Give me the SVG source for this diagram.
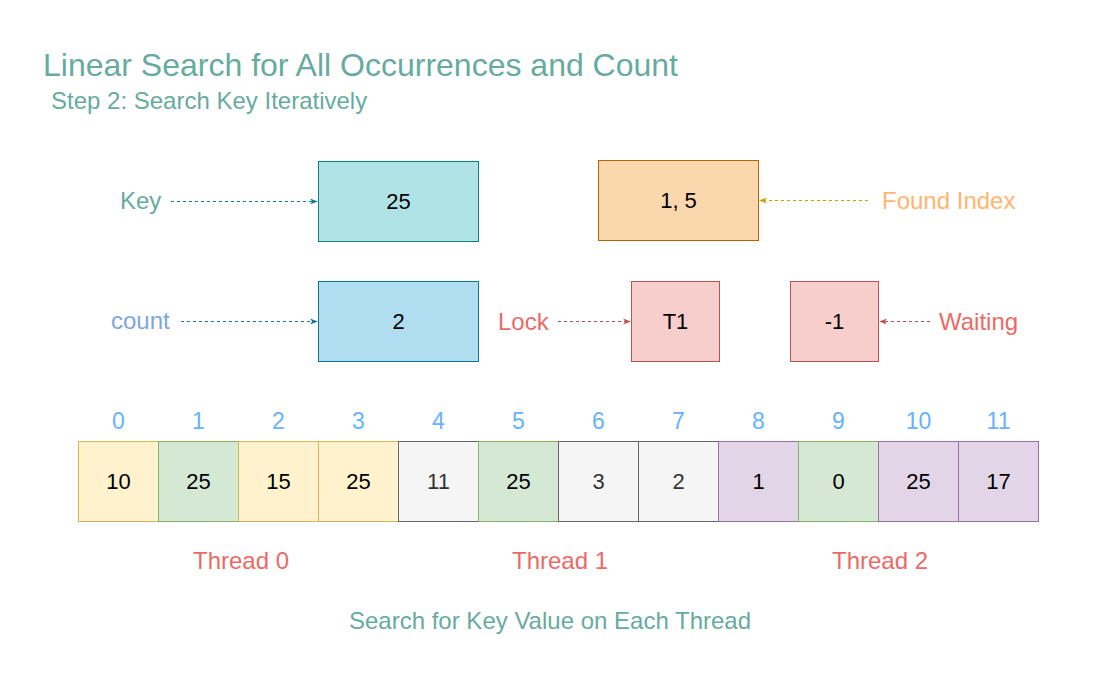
<svg xmlns="http://www.w3.org/2000/svg" width="1100" height="700" viewBox="0 0 1100 700">
<defs>
<style>
text{font-family:"Liberation Sans",Arial,Helvetica,sans-serif;}
.v{font-size:22px;fill:#000;text-anchor:middle;dominant-baseline:central;}
.idx{font-size:23px;fill:#66B2FF;text-anchor:middle;dominant-baseline:central;}
.lbl{font-size:24px;dominant-baseline:central;}
.th{font-size:24px;fill:#EA6B66;text-anchor:middle;dominant-baseline:central;}
.dash{fill:none;stroke-width:1;stroke-dasharray:3 3;}
.y{fill:#fff2cc;stroke:#d6b656;}
.g{fill:#d5e8d4;stroke:#82b366;}
.w{fill:#f5f5f5;stroke:#666666;}
.p{fill:#e1d5e7;stroke:#9673a6;}
</style>
<marker id="mTeal" viewBox="0 0 10 10" refX="9" refY="5" markerWidth="8" markerHeight="8" orient="auto" markerUnits="userSpaceOnUse"><path d="M0,1 L10,5 L0,9 L3,5 Z" fill="#0e8088"/></marker>
<marker id="mBlue" viewBox="0 0 10 10" refX="9" refY="5" markerWidth="8" markerHeight="8" orient="auto" markerUnits="userSpaceOnUse"><path d="M0,1 L10,5 L0,9 L3,5 Z" fill="#10739e"/></marker>
<marker id="mOrange" viewBox="0 0 10 10" refX="9" refY="5" markerWidth="8" markerHeight="8" orient="auto" markerUnits="userSpaceOnUse"><path d="M0,1 L10,5 L0,9 L3,5 Z" fill="#d79b00"/></marker>
<marker id="mRed" viewBox="0 0 10 10" refX="9" refY="5" markerWidth="8" markerHeight="8" orient="auto" markerUnits="userSpaceOnUse"><path d="M0,1 L10,5 L0,9 L3,5 Z" fill="#b85450"/></marker>
</defs>
<rect width="1100" height="700" fill="#ffffff"/>
<g id="title">
<text x="43" y="76" font-size="32" fill="#67AB9F">Linear Search for All Occurrences and Count</text>
<text x="51" y="109" font-size="24" fill="#67AB9F">Step 2: Search Key Iteratively</text>
</g>
<g id="node-key"><rect x="318.5" y="161.5" width="160" height="80" fill="#b0e3e6" stroke="#0e8088"/><text class="v" x="398.5" y="201.5">25</text></g>
<g id="node-found"><rect x="598.5" y="160.5" width="160" height="80" fill="#fad7ac" stroke="#b46504"/><text class="v" x="678.5" y="200.5">1, 5</text></g>
<g id="node-count"><rect x="318.5" y="281.5" width="160" height="80" fill="#b1ddf0" stroke="#10739e"/><text class="v" x="398.5" y="321.5">2</text></g>
<g id="node-lock"><rect x="631.5" y="281.5" width="88" height="80" fill="#f8cecc" stroke="#b85450"/><text class="v" x="675.5" y="321.5">T1</text></g>
<g id="node-wait"><rect x="790.5" y="281.5" width="88" height="80" fill="#f8cecc" stroke="#b85450"/><text class="v" x="834.5" y="321.5">-1</text></g>
<g id="labels">
<text class="lbl" x="120" y="200" fill="#67AB9F">Key</text>
<text class="lbl" x="882" y="200" fill="#FFB570">Found Index</text>
<text class="lbl" x="111" y="320" fill="#7EA6E0">count</text>
<text class="lbl" x="498" y="321" fill="#EA6B66">Lock</text>
<text class="lbl" x="939" y="321" fill="#EA6B66">Waiting</text>
</g>
<g id="connectors">
<line class="dash" x1="171" y1="201.5" x2="317" y2="201.5" stroke="#0e8088" marker-end="url(#mTeal)"/>
<line class="dash" x1="868" y1="200.5" x2="760" y2="200.5" stroke="#d79b00" marker-end="url(#mOrange)"/>
<line class="dash" x1="181" y1="321.5" x2="317" y2="321.5" stroke="#10739e" marker-end="url(#mBlue)"/>
<line class="dash" x1="558" y1="321.5" x2="630" y2="321.5" stroke="#b85450" marker-end="url(#mRed)"/>
<line class="dash" x1="930" y1="321.5" x2="880" y2="321.5" stroke="#b85450" marker-end="url(#mRed)"/>
</g>
<g id="array">
<g id="cell0"><rect class="y" x="78.5" y="441.5" width="80" height="80"/><text class="v" x="118.5" y="481.5">10</text><text class="idx" x="118.5" y="421">0</text></g>
<g id="cell1"><rect class="g" x="158.5" y="441.5" width="80" height="80"/><text class="v" x="198.5" y="481.5">25</text><text class="idx" x="198.5" y="421">1</text></g>
<g id="cell2"><rect class="y" x="238.5" y="441.5" width="80" height="80"/><text class="v" x="278.5" y="481.5">15</text><text class="idx" x="278.5" y="421">2</text></g>
<g id="cell3"><rect class="y" x="318.5" y="441.5" width="80" height="80"/><text class="v" x="358.5" y="481.5">25</text><text class="idx" x="358.5" y="421">3</text></g>
<g id="cell4"><rect class="w" x="398.5" y="441.5" width="80" height="80"/><text class="v" x="438.5" y="481.5" style="fill:#333">11</text><text class="idx" x="438.5" y="421">4</text></g>
<g id="cell5"><rect class="g" x="478.5" y="441.5" width="80" height="80"/><text class="v" x="518.5" y="481.5">25</text><text class="idx" x="518.5" y="421">5</text></g>
<g id="cell6"><rect class="w" x="558.5" y="441.5" width="80" height="80"/><text class="v" x="598.5" y="481.5" style="fill:#333">3</text><text class="idx" x="598.5" y="421">6</text></g>
<g id="cell7"><rect class="w" x="638.5" y="441.5" width="80" height="80"/><text class="v" x="678.5" y="481.5" style="fill:#333">2</text><text class="idx" x="678.5" y="421">7</text></g>
<g id="cell8"><rect class="p" x="718.5" y="441.5" width="80" height="80"/><text class="v" x="758.5" y="481.5">1</text><text class="idx" x="758.5" y="421">8</text></g>
<g id="cell9"><rect class="g" x="798.5" y="441.5" width="80" height="80"/><text class="v" x="838.5" y="481.5">0</text><text class="idx" x="838.5" y="421">9</text></g>
<g id="cell10"><rect class="p" x="878.5" y="441.5" width="80" height="80"/><text class="v" x="918.5" y="481.5">25</text><text class="idx" x="918.5" y="421">10</text></g>
<g id="cell11"><rect class="p" x="958.5" y="441.5" width="80" height="80"/><text class="v" x="998.5" y="481.5">17</text><text class="idx" x="998.5" y="421">11</text></g>
</g>
<g id="threads">
<text class="th" x="241" y="560">Thread 0</text>
<text class="th" x="560" y="560">Thread 1</text>
<text class="th" x="880" y="560">Thread 2</text>
</g>
<g id="caption"><text x="550" y="620" font-size="24" fill="#67AB9F" text-anchor="middle" dominant-baseline="central">Search for Key Value on Each Thread</text></g>
</svg>
